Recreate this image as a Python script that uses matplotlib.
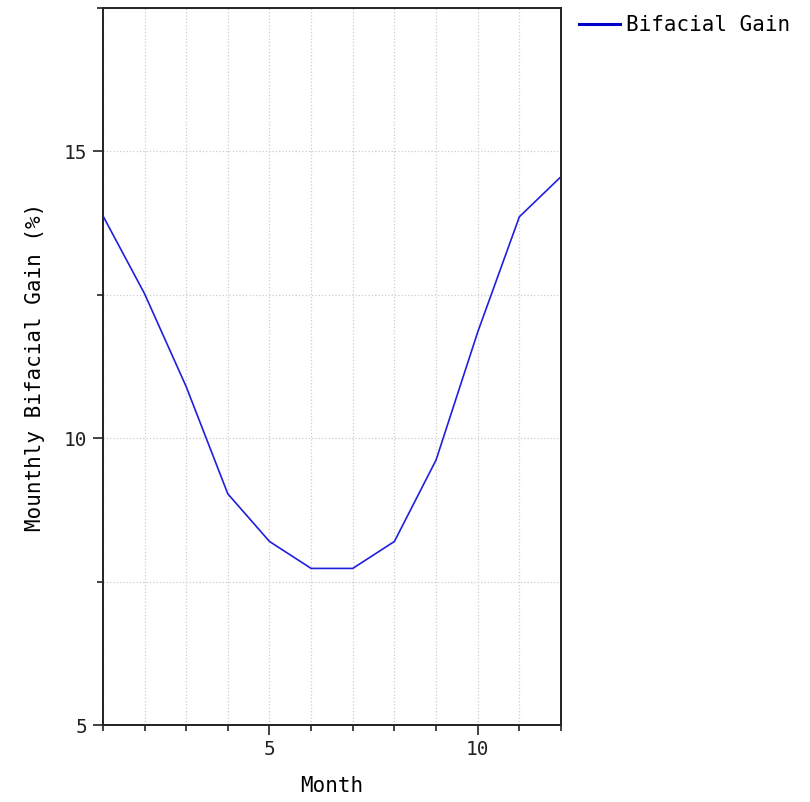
import numpy as np
import matplotlib.pyplot as plt
from matplotlib.ticker import MultipleLocator

# monthly bifacial gain (%)
months = [1, 2, 3, 4, 5, 6, 7, 8, 9, 10, 11, 12]
gain = [13.88, 12.52, 10.90, 9.03, 8.20, 7.73, 7.73, 8.20, 9.62, 11.85, 13.86, 14.56]

plt.rcParams['font.family'] = ['DejaVu Sans Mono']
fs = 15

fig = plt.figure(figsize=(8.1, 8.02), dpi=100)
ax = fig.add_axes([0.127, 0.096, 0.5656, 0.894])

ax.plot(months, gain, color='#1f1fe0', lw=1.2, label='Bifacial Gain')

ax.set_xlim(1, 12)
ax.set_ylim(5, 17.5)
ax.xaxis.set_major_locator(MultipleLocator(5))
ax.xaxis.set_minor_locator(MultipleLocator(1))
ax.yaxis.set_major_locator(MultipleLocator(5))
ax.yaxis.set_minor_locator(MultipleLocator(2.5))

ax.grid(which='both', color='#cccccc', linestyle=':', lw=0.9)
ax.tick_params(which='major', direction='out', length=7.5, width=1.2, colors='#222222', labelsize=14)
ax.tick_params(which='minor', direction='out', length=4.5, width=1.2, colors='#222222')
for s in ax.spines.values():
    s.set_linewidth(1.4)
    s.set_color('#222222')

ax.set_xlabel('Month', fontsize=fs, labelpad=12)
ax.set_ylabel('Mounthly Bifacial Gain (%)', fontsize=fs, labelpad=14)

ax.legend(loc='upper left', bbox_to_anchor=(1.02, 1.002), frameon=False,
          handlelength=2.0, handletextpad=0.3, borderaxespad=0, fontsize=fs)
leg = ax.get_legend()
leg.get_lines()[0].set_linewidth(2.2)
leg.get_lines()[0].set_color('#0000cc')

plt.savefig('out.png', dpi=100)
